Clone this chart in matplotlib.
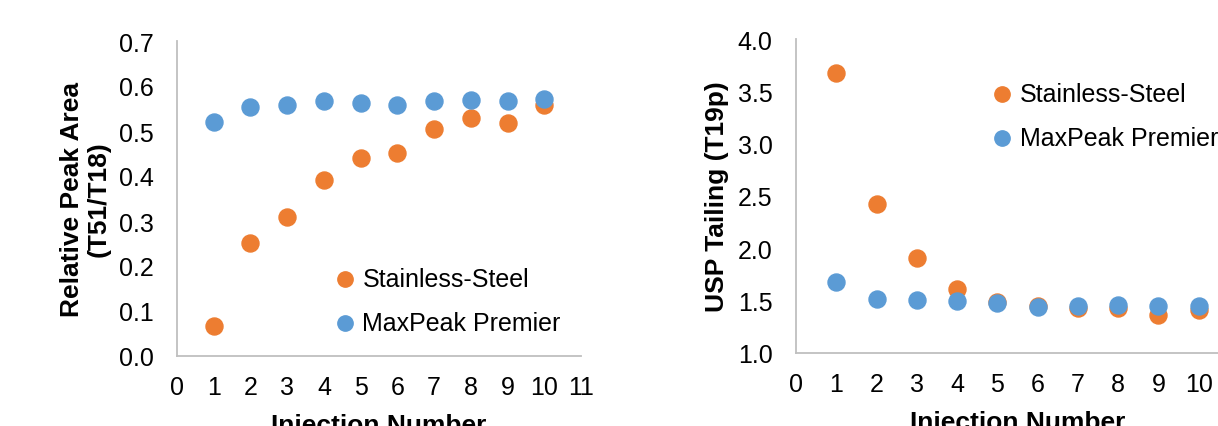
import matplotlib.pyplot as plt

injections = [1, 2, 3, 4, 5, 6, 7, 8, 9, 10]

# relative peak area (T51/T18)
area_steel = [0.067, 0.252, 0.308, 0.392, 0.441, 0.452, 0.504, 0.530, 0.517, 0.557]
area_maxpeak = [0.519, 0.553, 0.557, 0.566, 0.562, 0.557, 0.566, 0.568, 0.566, 0.571]

# USP tailing (T19p)
tail_steel = [3.675, 2.42, 1.907, 1.61, 1.49, 1.45, 1.43, 1.43, 1.36, 1.41]
tail_maxpeak = [1.68, 1.52, 1.51, 1.50, 1.48, 1.44, 1.45, 1.46, 1.45, 1.45]

orange = '#ED7D31'
blue = '#5B9BD5'

plt.rcParams['font.family'] = ['Liberation Sans', 'DejaVu Sans']

W, H = 1218, 427
fig = plt.figure(figsize=(W / 100, H / 100), dpi=100)
ax1 = fig.add_axes([177 / W, 70 / H, 404 / W, 315 / H])
ax2 = fig.add_axes([796 / W, 73 / H, 443 / W, 314 / H])


def style(ax):
    for side in ['top', 'right']:
        ax.spines[side].set_visible(False)
    for side in ['left', 'bottom']:
        ax.spines[side].set_color('#BFBFBF')
        ax.spines[side].set_linewidth(1.3)
    ax.tick_params(axis='both', length=0, labelsize=18)
    ax.tick_params(axis='x', pad=14)
    ax.tick_params(axis='y', pad=17)
    ax.set_xlim(0, 11)
    ax.set_xticks(range(0, 12))


def add_legend(ax, x, y):
    ax.legend(loc='upper left', bbox_to_anchor=(x / W, 1 - y / H), bbox_transform=fig.transFigure,
              frameon=False, fontsize=18, handletextpad=0.3, labelspacing=0.8, borderpad=0,
              borderaxespad=0, handlelength=0.8, scatterpoints=1, markerscale=0.9)


ax1.scatter(injections, area_steel, s=150, color=orange, label='Stainless-Steel', zorder=3, clip_on=False)
ax1.scatter(injections, area_maxpeak, s=150, color=blue, label='MaxPeak Premier', zorder=3, clip_on=False)
style(ax1)
ax1.set_ylim(0, 0.7)
ax1.set_yticks([0, 0.1, 0.2, 0.3, 0.4, 0.5, 0.6, 0.7])
ax1.set_yticklabels(['0.0', '0.1', '0.2', '0.3', '0.4', '0.5', '0.6', '0.7'])
ax1.set_ylabel('Relative Peak Area\n(T51/T18)', fontsize=19, fontweight='bold', labelpad=6, linespacing=1.1)
ax1.set_xlabel('Injection Number', fontsize=19, fontweight='bold', labelpad=10)
add_legend(ax1, 335, 268)

ax2.scatter(injections, tail_steel, s=150, color=orange, label='Stainless-Steel', zorder=3, clip_on=False)
ax2.scatter(injections, tail_maxpeak, s=150, color=blue, label='MaxPeak Premier', zorder=3, clip_on=False)
style(ax2)
ax2.set_ylim(1.0, 4.0)
ax2.set_yticks([1.0, 1.5, 2.0, 2.5, 3.0, 3.5, 4.0])
ax2.set_yticklabels(['1.0', '1.5', '2.0', '2.5', '3.0', '3.5', '4.0'])
ax2.set_ylabel('USP Tailing (T19p)', fontsize=19, fontweight='bold', labelpad=6)
ax2.set_xlabel('Injection Number', fontsize=19, fontweight='bold', labelpad=10)
add_legend(ax2, 992, 83)

plt.savefig('out.png', dpi=100)
